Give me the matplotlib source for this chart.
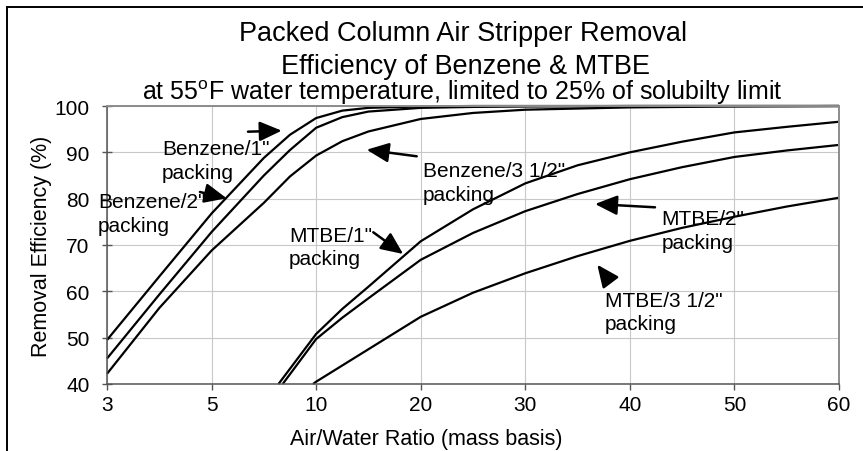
import numpy as np
import matplotlib
matplotlib.use("Agg")
from matplotlib import pyplot as plt
from matplotlib.lines import Line2D

plt.rcParams['font.family'] = ['Liberation Sans', 'DejaVu Sans']
plt.rcParams['mathtext.fontset'] = 'custom'
plt.rcParams['mathtext.rm'] = 'Liberation Sans'

# x axis: category-like ticks, equally spaced on the chart
x_ticks = [3, 5, 10, 20, 30, 40, 50, 60]
y_ticks = [40, 50, 60, 70, 80, 90, 100]

# Benzene curves (air/water ratio -> removal %)
benz_x = [3, 4, 5, 7.5, 8.75, 10, 12.5, 15, 20, 25, 30, 40, 50, 60]
benz_1 = [49.5, 63.2, 76.8, 88.8, 93.8, 97.4, 99.0, 99.6, 99.9, 100, 100, 100, 100, 100]
benz_2 = [45.5, 59.3, 72.8, 85.0, 90.5, 95.3, 97.6, 98.8, 99.6, 99.8, 99.9, 100, 100, 100]
benz_35 = [42.2, 56.4, 68.8, 79.1, 84.8, 89.3, 92.4, 94.5, 97.2, 98.5, 99.2, 99.7, 99.9, 100]

# MTBE curves
mtbe1_x = [8.2, 10, 12.5, 15, 20, 25, 30, 35, 40, 45, 50, 55, 60]
mtbe_1 = [40, 50.8, 56.2, 61.0, 70.8, 77.7, 83.3, 87.2, 90.0, 92.3, 94.3, 95.5, 96.6]
mtbe2_x = [8.4, 10, 12.5, 15, 20, 25, 30, 35, 40, 45, 50, 55, 60]
mtbe_2 = [40, 49.7, 54.3, 58.5, 66.8, 72.6, 77.3, 81.0, 84.2, 86.8, 89.0, 90.4, 91.6]
mtbe35_x = [9.85, 10, 12.5, 15, 20, 25, 30, 35, 40, 45, 50, 55, 60]
mtbe_35 = [40, 40.5, 44.0, 47.5, 54.5, 59.7, 63.9, 67.6, 70.9, 73.7, 76.1, 78.3, 80.2]

series = [(benz_x, benz_1), (benz_x, benz_2), (benz_x, benz_35),
          (mtbe1_x, mtbe_1), (mtbe2_x, mtbe_2), (mtbe35_x, mtbe_35)]

idx = np.arange(len(x_ticks))


def fwd(v):
    return np.interp(v, x_ticks, idx)


def inv(u):
    return np.interp(u, idx, x_ticks)


fig = plt.figure(figsize=(8.63, 4.52), dpi=100)
ax = fig.add_axes([107 / 863, 1 - 385 / 452, 732 / 863, 278 / 452])
ax.set_xscale('function', functions=(fwd, inv))
ax.set_xlim(3, 60)
ax.set_ylim(40, 100)
ax.set_xticks(x_ticks)
ax.set_xticklabels([str(v) for v in x_ticks])
ax.set_yticks(y_ticks)
ax.minorticks_off()
ax.grid(True, color='#c8c8c8', lw=0.8)
ax.set_axisbelow(True)

for xs, ys in series:
    ax.plot(xs, ys, color='black', lw=1.6, clip_on=False, solid_capstyle='butt',
            solid_joinstyle='round')

for s in ['left', 'bottom']:
    ax.spines[s].set_color('#555555')
    ax.spines[s].set_linewidth(1.1)
for s in ['top', 'right']:
    ax.spines[s].set_color('#8c8c8c')
    ax.spines[s].set_linewidth(1.4)

ax.tick_params(axis='x', direction='out', length=4, width=1, color='#555555',
               labelsize=15, pad=4)
ax.tick_params(axis='y', direction='inout', length=7, width=1, color='#555555',
               labelsize=15, pad=9)

ax.set_xlabel('Air/Water Ratio (mass basis)', fontsize=15.5, va='baseline')
ax.xaxis.set_label_coords(0.4365, -0.216)
ax.set_ylabel('Removal Efficiency (%)', fontsize=15.5, labelpad=2)

# title lines
fig.text(463 / 863, 1 - 41 / 452, 'Packed Column Air Stripper Removal',
         ha='center', va='baseline', fontsize=19.5)
fig.text(465 / 863, 1 - 74 / 452, 'Efficiency of Benzene & MTBE',
         ha='center', va='baseline', fontsize=19.5)
fig.text(462 / 863, 1 - 100 / 452,
         r'at 55$^{\mathrm{o}}$F water temperature, limited to 25% of solubilty limit',
         ha='center', va='baseline', fontsize=18)

# labels with arrows (axes fraction): text baseline of first line, arrow tail, arrow head
labels = [
    ('Benzene/1"', (0.0751, 0.8273), (0.1926, 0.9076), (0.2387, 0.9112)),
    ('Benzene/2"', (-0.0123, 0.6356), (0.1270, 0.6906), (0.1635, 0.6680)),
    ('Benzene/3 1/2"', (0.4317, 0.7471), (0.4231, 0.8191), (0.3547, 0.8428)),
    ('MTBE/1"', (0.2486, 0.5155), (0.3638, 0.5457), (0.4046, 0.4676)),
    ('MTBE/2"', (0.7578, 0.5755), (0.7486, 0.6356), (0.6667, 0.6475)),
    ('MTBE/3 1/2"', (0.6803, 0.2817), (0.6872, 0.3680), (0.6698, 0.4291)),
]
line_step = 23.5 / 278
for txt, tpos, tail, head in labels:
    ax.text(tpos[0], tpos[1], txt, transform=ax.transAxes, fontsize=15,
            ha='left', va='baseline', clip_on=False)
    ax.text(tpos[0], tpos[1] - line_step, 'packing', transform=ax.transAxes,
            fontsize=15, ha='left', va='baseline', clip_on=False)
    ax.annotate('', xy=head, xytext=tail, xycoords='axes fraction',
                textcoords='axes fraction', annotation_clip=False,
                arrowprops=dict(arrowstyle='-|>,head_length=0.9,head_width=0.4',
                                mutation_scale=15, lw=1.8, color='black',
                                shrinkA=0, shrinkB=0))

# outer frame (only top and left visible)
fig.add_artist(Line2D([7 / 863, 1], [1 - 8 / 452, 1 - 8 / 452],
                      transform=fig.transFigure, color='black', lw=1.4))
fig.add_artist(Line2D([7 / 863, 7 / 863], [0, 1 - 8 / 452],
                      transform=fig.transFigure, color='black', lw=1.4))

fig.savefig('out.png', dpi=100)
